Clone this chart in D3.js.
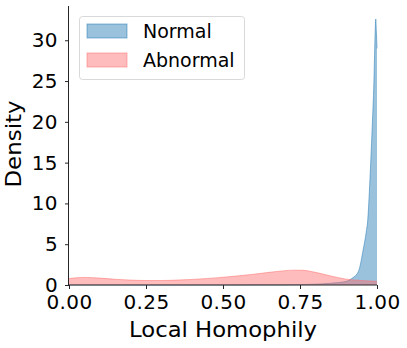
<!DOCTYPE html>
<html>
<head>
<meta charset="utf-8">
<script src="https://cdn.jsdelivr.net/npm/d3@7"></script>
<style>
  body { margin: 0; background: #fff; }
  svg text { font-family: "DejaVu Sans", sans-serif; fill: #000; }
</style>
</head>
<body>
<div id="chart"></div>
<script>
// density curves
var normalX = [0, 0.5, 0.7, 0.8, 0.85, 0.9, 0.92, 0.94, 0.955, 0.965, 0.97, 0.977, 0.984, 0.99, 0.994, 0.996, 0.998, 1.0];
var normalY = [0, 0, 0.02, 0.1, 0.22, 0.45, 0.85, 1.7, 4.3, 6.5, 8, 12.9, 19, 25, 31, 32.6, 31, 29];

var abnormalX = [0, 0.05, 0.1, 0.15, 0.2, 0.25, 0.3, 0.35, 0.4, 0.45, 0.5, 0.55, 0.6, 0.65, 0.7, 0.73, 0.76, 0.8, 0.85, 0.9, 0.95, 1.0];
var abnormalY = [0.8, 0.93, 0.85, 0.7, 0.6, 0.55, 0.55, 0.6, 0.68, 0.8, 0.95, 1.12, 1.32, 1.55, 1.75, 1.82, 1.8, 1.55, 1.1, 0.72, 0.55, 0.45];

var xTicks = [0, 0.25, 0.5, 0.75, 1.0];
var yTicks = [0, 5, 10, 15, 20, 25, 30];
var seriesNames = ["Normal", "Abnormal"];

var width = 407, height = 348;
var margin = {top: 6, right: 30, bottom: 63, left: 69};

var svg = d3.select("#chart").append("svg")
    .attr("width", width)
    .attr("height", height);

var x = d3.scaleLinear().domain([0, 1]).range([margin.left, width - margin.right]);
var y = d3.scaleLinear().domain([0, 34.2]).range([height - margin.bottom, margin.top]);

function zip(xs, ys) {
    return xs.map(function(v, i) { return [v, ys[i]]; });
}

var area = d3.area()
    .x(function(d) { return x(d[0]); })
    .y0(y(0))
    .y1(function(d) { return y(d[1]); })
    .curve(d3.curveMonotoneX);

var line = d3.line()
    .x(function(d) { return x(d[0]); })
    .y(function(d) { return y(d[1]); })
    .curve(d3.curveMonotoneX);

var fills = ["#1f77b4", "#ff6b6b"];
var series = [zip(normalX, normalY), zip(abnormalX, abnormalY)];

series.forEach(function(s, i) {
    svg.append("path")
        .datum(s)
        .attr("d", area)
        .attr("fill", fills[i])
        .attr("fill-opacity", 0.45);
    svg.append("path")
        .datum(s)
        .attr("d", line)
        .attr("fill", "none")
        .attr("stroke", fills[i])
        .attr("stroke-opacity", 0.5)
        .attr("stroke-width", 1);
});

// axes
var xAxis = svg.append("g")
    .attr("transform", "translate(0," + y(0) + ")")
    .call(d3.axisBottom(x).tickValues(xTicks).tickFormat(d3.format(".2f")).tickSize(4).tickPadding(4));
var yAxis = svg.append("g")
    .attr("transform", "translate(" + margin.left + ",0)")
    .call(d3.axisLeft(y).tickValues(yTicks).tickSize(4).tickPadding(7));

[xAxis, yAxis].forEach(function(a) {
    a.selectAll("path").attr("stroke", "#262626").attr("stroke-width", 1);
    a.selectAll("line").attr("stroke", "#262626").attr("stroke-width", 1);
    a.selectAll("text").style("font-size", "20px").style("letter-spacing", "0.4px").attr("fill", "#000");
});
xAxis.selectAll("text").attr("dy", "0.82em");
yAxis.select(".domain").attr("d", "M-0.5," + y(0) + "V" + margin.top);
xAxis.select(".domain").attr("d", "M" + x(0) + ",0H" + x(1));

svg.append("text")
    .attr("x", (x(0) + x(1)) / 2)
    .attr("y", 336.5)
    .attr("text-anchor", "middle")
    .attr("textLength", 188)
    .attr("lengthAdjust", "spacingAndGlyphs")
    .style("font-size", "20.5px")
    .text("Local Homophily");

svg.append("text")
    .attr("transform", "translate(21," + 144 + ") rotate(-90)")
    .attr("text-anchor", "middle")
    .attr("textLength", 87)
    .attr("lengthAdjust", "spacingAndGlyphs")
    .style("font-size", "20.5px")
    .text("Density");

// legend
var legend = svg.append("g");
legend.append("rect")
    .attr("x", 79.5).attr("y", 16.5)
    .attr("width", 165).attr("height", 63)
    .attr("rx", 3)
    .attr("fill", "#fff").attr("fill-opacity", 0.8)
    .attr("stroke", "#d9d9d9");

seriesNames.forEach(function(name, i) {
    var yy = 24 + i * 29;
    legend.append("rect")
        .attr("x", 87).attr("y", yy)
        .attr("width", 40).attr("height", 14)
        .attr("fill", fills[i]).attr("fill-opacity", 0.45)
        .attr("stroke", fills[i]).attr("stroke-opacity", 0.5);
    legend.append("text")
        .attr("x", 143).attr("y", yy + 14)
        .style("font-size", "19px")
        .text(name);
});
</script>
</body>
</html>
